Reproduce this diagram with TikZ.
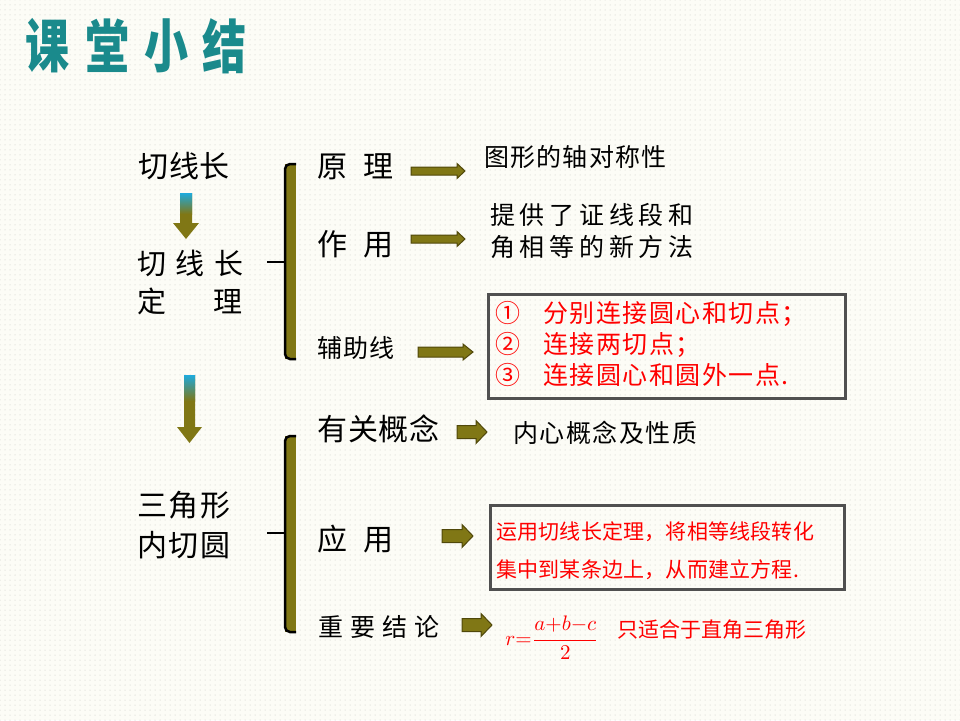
\documentclass[tikz,border=0pt]{standalone}
\usepackage{fontspec}
\newfontfamily\cjk{Noto Sans CJK SC}
\usetikzlibrary{patterns.meta}
\definecolor{bgcol}{RGB}{252,252,246}
\definecolor{dotcol}{RGB}{200,200,190}
\definecolor{titlecol}{RGB}{26,138,140}
\definecolor{olivefill}{RGB}{128,119,21}
\definecolor{olivedark}{RGB}{80,72,10}
\definecolor{arrowblue}{RGB}{30,170,220}
\definecolor{boxgray}{RGB}{80,80,80}
\newcommand\olivearrow[6]{% x, y, length, shaft, head width, head length
  \draw[fill=olivefill, draw=olivedark, line width=1pt, line join=miter]
    (#1,#2-#4/2) -- (#1+#3-#6,#2-#4/2) -- (#1+#3-#6,#2-#5/2) -- (#1+#3,#2)
    -- (#1+#3-#6,#2+#5/2) -- (#1+#3-#6,#2+#4/2) -- (#1,#2+#4/2) -- cycle;}
\begin{document}
\begin{tikzpicture}[x=1pt,y=-1pt,
  cj/.style={inner sep=0pt, anchor=west, font=\cjk\fontsize{#1}{#1}\selectfont,
             text height=0.83*#1, text depth=0.07*#1},
  titlech/.style={inner sep=0pt, text=titlecol, font=\cjk\bfseries\fontsize{58}{58}\selectfont, xscale=0.76},
  redbox/.style={draw=boxgray, line width=3pt, inner sep=0pt, anchor=north west},
  bracefill/.style={fill=olivefill},
  braceline/.style={line width=2.5pt, rounded corners=5pt},
  tick/.style={line width=2pt}]
\useasboundingbox (0,0) rectangle (960,720);
\fill[bgcol] (0,0) rectangle (960,720);
\fill[pattern={Dots[distance=5pt,radius=0.5pt]}, pattern color=dotcol] (0,0) rectangle (960,720);

% title
\node[titlech] (t1) at (48,46) {课};
\node[titlech] (t2) at (108,46) {堂};
\node[titlech] (t3) at (167,46) {小};
\node[titlech] (t4) at (225,46) {结};

% left column
\node[cj=30] (qxc) at (138,166) {\addfontfeature{LetterSpace=3}切线长};
\node[cj=29] (qxcdl1) at (137,263) {\addfontfeature{LetterSpace=33}切线长};
\node[cj=29] (qxcdl2) at (137,301) {定\hspace{47pt}理};
\node[cj=30] (sjx1) at (137,505) {\addfontfeature{LetterSpace=6}三角形};
\node[cj=30] (sjx2) at (137,545) {\addfontfeature{LetterSpace=6}内切圆};

% gradient arrows
\fill[olivefill] (180,193) -- (192,193) -- (192,223) -- (199,223) -- (186,239) -- (173,223) -- (180,223) -- cycle;
\shade[top color=arrowblue, bottom color=olivefill] (180,193) rectangle (192,214);
\fill[olivefill] (184,375) -- (195,375) -- (195,427) -- (202,427) -- (189.5,443) -- (177,427) -- (184,427) -- cycle;
\shade[top color=arrowblue, bottom color=olivefill] (184,375) rectangle (195,401);

% braces
\fill[bracefill] (285,164) rectangle (296,359);
\draw[braceline] (296,164) -- (285,164) -- (285,359) -- (296,359);
\draw[tick] (267,262) -- (285,262);
\fill[bracefill] (285,436) rectangle (296,632);
\draw[braceline] (296,436) -- (285,436) -- (285,632) -- (296,632);
\draw[tick] (267,533) -- (285,533);

% middle labels
\node[cj=30] (yl) at (317,166) {原\hspace{16pt}理};
\node[cj=30] (zy) at (317,244) {作\hspace{16pt}用};
\node[cj=25] (fzx) at (317,348) {\addfontfeature{LetterSpace=4}辅助线};
\node[cj=30] (ygn) at (317,429) {\addfontfeature{LetterSpace=3}有关概念};
\node[cj=30] (yy) at (317,539) {应\hspace{16pt}用};
\node[cj=25] (zyjl) at (318,627) {\addfontfeature{LetterSpace=29}重要结论};

% block arrows
\olivearrow{411}{171}{54}{8}{15}{8}
\olivearrow{411}{239}{54}{8}{15}{8}
\olivearrow{418}{352}{55}{10}{16}{10}
\olivearrow{457}{432}{30}{13}{23}{11}
\olivearrow{442}{536}{31}{13}{23}{11}
\olivearrow{462}{625}{30}{13}{23}{11}

% right texts
\node[cj=25] (txd) at (484,157) {\addfontfeature{LetterSpace=5}图形的轴对称性};
\node[cj=25] (tg1) at (490,215) {\addfontfeature{LetterSpace=19}提供了证线段和};
\node[cj=25] (tg2) at (490,247) {\addfontfeature{LetterSpace=19}角相等的新方法};
\node[cj=25] (nx) at (513,433) {\addfontfeature{LetterSpace=6}内心概念及性质};

% box 1
\node[redbox, minimum width=357pt, minimum height=104pt] (box1) at (486.5,292.5) {};
\node[cj=25, text=red] (n1) at (495,313) {①};
\node[cj=25, text=red] (l1) at (543,313) {\addfontfeature{LetterSpace=6}分别连接圆心和切点；};
\node[cj=25, text=red] (n2) at (495,344) {②};
\node[cj=25, text=red] (l2) at (543,344) {\addfontfeature{LetterSpace=6}连接两切点；};
\node[cj=25, text=red] (n3) at (495,375) {③};
\node[cj=25, text=red] (l3) at (543,375) {\addfontfeature{LetterSpace=6}连接圆心和圆外一点.};

% box 2
\node[redbox, minimum width=354pt, minimum height=84pt] (box2) at (488.5,503.5) {};
\node[cj=21, text=red] (b21) at (496,532) {\addfontfeature{LetterSpace=1}运用切线长定理，将相等线段转化};
\node[cj=21, text=red] (b22) at (496,570) {\addfontfeature{LetterSpace=1}集中到某条边上，从而建立方程.};

% formula
\node[inner sep=0pt, anchor=west, text=red, scale=2.1] (formula) at (505,638) {$r{=}\displaystyle\frac{a{+}b{-}c}{2}$};
\node[cj=21, text=red] (zsh) at (617,630) {只适合于直角三角形};
\end{tikzpicture}
\end{document}
